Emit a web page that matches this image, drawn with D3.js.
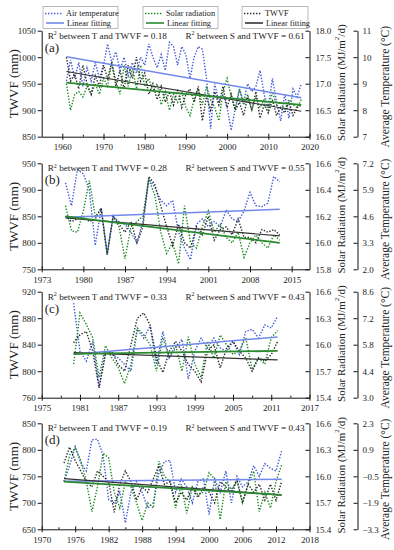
<!DOCTYPE html>
<html>
<head>
<meta charset="utf-8">
<script src="https://cdn.jsdelivr.net/npm/d3@7"></script>
<style>
body { margin: 0; background: #fff; }
svg { font-family: "Liberation Serif", "Times New Roman", serif; }
</style>
</head>
<body>
<svg width="394" height="550"></svg>
<script>
// ---- panel (a) ----
var yearsA = d3.range(1961, 2019);
var tempA = [9.10, 9.90, 9.20, 9.80, 8.90, 9.60, 9.10, 9.80, 9.20, 9.70,
  10.50, 9.80, 10.20, 9.50, 10.00, 9.30, 9.80, 9.40, 10.00, 9.70,
  10.50, 10.00, 9.60, 10.10, 9.50, 10.56, 10.40, 9.70, 10.40, 10.10,
  9.20, 10.00, 10.40, 10.30, 9.20, 7.30, 9.00, 8.30, 8.60, 8.10,
  7.24, 8.10, 8.80, 8.30, 9.00, 8.70, 8.90, 9.50, 8.60, 8.10,
  9.20, 8.30, 7.60, 8.60, 7.70, 8.80, 8.50, 9.00];
var solarA = [17.00, 16.50, 16.80, 16.85, 16.75, 16.95, 16.80, 17.00, 16.80, 17.10,
  16.95, 17.40, 17.05, 16.80, 17.35, 16.95, 17.30, 16.90, 17.35, 16.95,
  17.10, 16.85, 17.00, 16.60, 16.85, 16.50, 16.80, 16.65, 16.85, 16.55,
  16.40, 16.70, 16.90, 16.60, 16.95, 16.70, 16.55, 16.30, 16.85, 17.10,
  16.75, 16.50, 16.90, 16.60, 16.80, 16.50, 16.75, 16.55, 16.70, 16.50,
  16.85, 16.60, 16.65, 16.50, 16.70, 16.60, 16.55, 16.70];
var twvfA = [1000, 955, 968, 940, 985, 950, 930, 965, 945, 985,
  960, 990, 945, 975, 940, 985, 960, 1000, 955, 970,
  930, 950, 920, 945, 915, 935, 910, 940, 905, 930,
  940, 915, 945, 880, 925, 900, 935, 910, 945, 905,
  930, 900, 915, 890, 925, 900, 935, 885, 910, 895,
  920, 890, 905, 895, 915, 890, 905, 910];
var fitTempA = [10.02, 8.47], fitSolarA = [17.02, 16.60], fitTwvfA = [973, 898];
var xTicksA = [1960, 1970, 1980, 1990, 2000, 2010, 2020];
var wTicksA = [850, 900, 950, 1000, 1050];
var sTicksA = [16.0, 16.5, 17.0, 17.5, 18.0];
var tTicksA = [7, 8, 9, 10, 11];

// ---- panel (b) ----
var yearsB = d3.range(1977, 2014);
var tempB = [6.24, 5.12, 6.89, 6.68, 5.90, 3.17, 4.99, 2.73, 4.60, 4.34,
  4.21, 3.82, 3.30, 4.34, 6.42, 6.03, 5.38, 5.12, 5.38, 3.82,
  3.04, 2.47, 4.21, 4.47, 4.08, 4.34, 4.08, 4.91, 4.47, 4.34,
  4.86, 5.77, 5.12, 5.07, 5.25, 6.55, 6.29];
var solarB = [16.28, 16.09, 16.08, 16.24, 16.47, 16.20, 16.26, 15.91, 16.20, 16.12,
  15.88, 16.12, 16.16, 16.20, 16.48, 16.36, 16.08, 15.92, 16.00, 15.84,
  16.28, 16.00, 15.96, 16.12, 16.24, 16.08, 16.14, 16.04, 16.00, 16.08,
  15.89, 16.00, 16.06, 16.00, 15.96, 16.06, 16.02];
var twvfB = [850, 840, 845, 850, 840, 845, 865, 778, 850, 835,
  820, 840, 800, 830, 925, 910, 870, 830, 795, 835,
  800, 790, 830, 815, 850, 805, 825, 830, 815, 845,
  810, 810, 800, 825, 820, 825, 815];
var fitTempB = [4.55, 4.94], fitSolarB = [16.20, 16.00], fitTwvfB = [847, 813];
var xTicksB = [1973, 1980, 1987, 1994, 2001, 2008, 2015];
var wTicksB = [750, 800, 850, 900, 950];
var sTicksB = [15.8, 16.0, 16.2, 16.4, 16.6];
var tTicksB = [2.0, 3.3, 4.6, 5.9, 7.2];

// ---- panel (c) ----
var yearsC = d3.range(1980, 2013);
var tempC = [8.00, 5.45, 4.93, 5.98, 3.56, 5.45, 5.28, 5.10, 4.75, 4.40,
  6.61, 6.15, 6.78, 4.75, 6.50, 5.10, 5.63, 6.08, 3.98, 5.45,
  6.15, 5.63, 6.15, 5.63, 5.45, 5.98, 5.28, 6.50, 6.61, 6.15,
  6.85, 6.68, 7.31];
var solarC = [15.78, 16.36, 16.23, 16.08, 15.63, 15.99, 15.85, 15.74, 15.56, 15.78,
  16.19, 16.11, 16.00, 15.70, 16.08, 15.85, 16.00, 15.70, 16.09, 15.78,
  15.63, 16.04, 15.85, 16.11, 16.00, 15.89, 15.93, 16.08, 15.72, 15.85,
  15.78, 16.08, 16.16];
var twvfC = [843, 855, 860, 830, 775, 825, 830, 810, 800, 840,
  880, 888, 870, 820, 798, 830, 845, 830, 810, 800,
  784, 830, 840, 805, 835, 845, 830, 820, 800, 820,
  815, 825, 845];
var fitTempC = [5.30, 6.21], fitSolarC = [15.895, 15.93], fitTwvfC = [828, 817];
var xTicksC = [1975, 1981, 1987, 1993, 1999, 2005, 2011, 2017];
var wTicksC = [760, 800, 840, 880, 920];
var sTicksC = [15.4, 15.7, 16.0, 16.3, 16.6];
var tTicksC = [3.0, 4.4, 5.8, 7.2, 8.6];

// ---- panel (d) ----
var yearsD = d3.range(1974, 2014);
var tempD = [-0.78, 0.06, 1.07, 0.20, -0.22, 1.43, 1.46, 0.62, -1.73, -1.90,
  -1.34, -2.96, -1.34, -0.78, -1.34, -2.18, -1.90, -0.36, 0.28, 0.34,
  -1.34, -0.64, -1.06, -1.90, -0.78, -0.64, -2.52, -0.64, -1.34, -0.22,
  -1.90, -0.50, -1.06, -0.78, 0.06, -0.50, 0.17, -0.08, -0.22, 0.84];
var solarD = [15.94, 16.24, 16.32, 16.18, 15.94, 15.60, 15.88, 16.26, 16.21, 15.82,
  15.64, 15.94, 15.88, 15.70, 15.50, 15.70, 15.64, 16.17, 16.00, 15.94,
  15.64, 15.91, 15.58, 15.88, 15.79, 15.82, 16.04, 15.97, 15.51, 15.94,
  15.85, 15.94, 15.70, 15.91, 16.06, 15.60, 15.82, 15.64, 15.94, 16.13];
var twvfD = [775, 805, 780, 760, 740, 730, 760, 750, 740, 682,
  735, 760, 740, 705, 730, 720, 745, 770, 735, 740,
  700, 720, 705, 730, 710, 730, 720, 700, 740, 730,
  720, 745, 700, 735, 720, 735, 705, 735, 705, 740];
var fitTempD = [-0.76, -0.66], fitSolarD = [15.94, 15.79], fitTwvfD = [745.6, 714.4];
var xTicksD = [1970, 1976, 1982, 1988, 1994, 2000, 2006, 2012, 2018];
var wTicksD = [650, 700, 750, 800, 850];
var sTicksD = [15.4, 15.7, 16.0, 16.3, 16.6];
var tTicksD = [-3.3, -1.9, -0.5, 0.9, 2.3];

var xDomains = [[1955, 2020], [1973, 2018], [1975, 2017], [1970, 2018]];
var panelLabels = ["(a)", "(b)", "(c)", "(d)"];
var r2T = ["0.18", "0.28", "0.33", "0.19"];
var r2S = ["0.61", "0.55", "0.43", "0.43"];
var legendNames = ["Air temperature", "Solar radiation", "TWVF"];

// colours
var cTemp = "#4159d8", cTempFit = "#7389ea";
var cSolar = "#1f8a24", cSolarFit = "#2b8a30";
var cTwvf = "#2b2b2b", cTwvfFit = "#333333";

var panels = [
  { years: yearsA, t: tempA, s: solarA, w: twvfA, ft: fitTempA, fs: fitSolarA, fw: fitTwvfA,
    xt: xTicksA, wt: wTicksA, st: sTicksA, tt: tTicksA, tFmt: d3.format("d") },
  { years: yearsB, t: tempB, s: solarB, w: twvfB, ft: fitTempB, fs: fitSolarB, fw: fitTwvfB,
    xt: xTicksB, wt: wTicksB, st: sTicksB, tt: tTicksB, tFmt: d3.format(".1f") },
  { years: yearsC, t: tempC, s: solarC, w: twvfC, ft: fitTempC, fs: fitSolarC, fw: fitTwvfC,
    xt: xTicksC, wt: wTicksC, st: sTicksC, tt: tTicksC, tFmt: d3.format(".1f") },
  { years: yearsD, t: tempD, s: solarD, w: twvfD, ft: fitTempD, fs: fitSolarD, fw: fitTwvfD,
    xt: xTicksD, wt: wTicksD, st: sTicksD, tt: tTicksD, tFmt: d3.format(".1f") }
];

var svg = d3.select("svg");
var L = 41.7, R = 309.5, H = 106, AX3 = 357.5;
var tops = [30.7, 163.3, 291.7, 423.3];
var FONT = "'Liberation Serif', 'Times New Roman', serif";

function styleAxis(g) {
  g.attr("font-family", FONT).attr("font-size", 9);
  g.select(".domain").attr("stroke", "#111").attr("stroke-width", 1);
  g.selectAll(".tick line").attr("stroke", "#111");
  g.selectAll(".tick text").attr("fill", "#222");
}

function drawPanel(p, k) {
  var top = tops[k];
  var x = d3.scaleLinear().domain(xDomains[k]).range([L, R]);
  var yW = d3.scaleLinear().domain(d3.extent(p.wt)).range([top + H, top]);
  var yS = d3.scaleLinear().domain(d3.extent(p.st)).range([top + H, top]);
  var yT = d3.scaleLinear().domain(d3.extent(p.tt)).range([top + H, top]);
  var g = svg.append("g");

  function series(vals, scale, color) {
    g.append("path")
      .attr("d", d3.line().x(function(d, i) { return x(p.years[i]); }).y(function(d) { return scale(d); })(vals))
      .attr("fill", "none").attr("stroke", color).attr("stroke-width", 1.4)
      .attr("stroke-dasharray", "1.4 1.6");
  }
  function fit(ends, scale, color, wdt) {
    var xs = [p.years[0], p.years[p.years.length - 1]];
    g.append("path")
      .attr("d", d3.line().x(function(d, i) { return x(xs[i]); }).y(function(d) { return scale(d); })(ends))
      .attr("fill", "none").attr("stroke", color).attr("stroke-width", wdt);
  }

  series(p.t, yT, cTemp);
  series(p.s, yS, cSolar);
  series(p.w, yW, cTwvf);
  fit(p.ft, yT, cTempFit, 1.5);
  fit(p.fw, yW, cTwvfFit, 1.2);
  fit(p.fs, yS, cSolarFit, 1.8);

  // axes
  var ax = g.append("g").attr("transform", "translate(" + L + ",0)")
    .call(d3.axisLeft(yW).tickValues(p.wt).tickSize(4).tickSizeOuter(0).tickPadding(2).tickFormat(d3.format("d")));
  styleAxis(ax);

  var bx = g.append("g").attr("transform", "translate(0," + (top + H) + ")")
    .call(d3.axisBottom(x).tickValues(p.xt).tickSize(3).tickSizeOuter(0).tickPadding(4).tickFormat(d3.format("d")));
  styleAxis(bx);
  var minors = d3.pairs(p.xt).map(function(q) { return (q[0] + q[1]) / 2; });
  g.append("g").attr("transform", "translate(0," + (top + H) + ")")
    .call(d3.axisBottom(x).tickValues(p.xt).tickSize(-3).tickSizeOuter(0).tickFormat(""))
    .call(function(s) { s.select(".domain").remove(); s.selectAll("line").attr("stroke", "#111"); });
  g.append("g").attr("transform", "translate(0," + (top + H) + ")")
    .call(d3.axisBottom(x).tickValues(minors).tickSize(-2).tickSizeOuter(0).tickFormat(""))
    .call(function(s) { s.select(".domain").remove(); s.selectAll("line").attr("stroke", "#111"); });

  var sx = g.append("g").attr("transform", "translate(" + R + ",0)")
    .call(d3.axisRight(yS).tickValues(p.st).tickSize(-4).tickSizeOuter(0).tickPadding(6).tickFormat(d3.format(".1f")));
  styleAxis(sx);

  var tx = g.append("g").attr("transform", "translate(" + AX3 + ",0)")
    .call(d3.axisRight(yT).tickValues(p.tt).tickSize(-4).tickSizeOuter(0).tickPadding(5).tickFormat(p.tFmt));
  styleAxis(tx);

  // R² notes
  function r2(xp, anchor, letter, val) {
    var t = g.append("text").attr("x", xp).attr("y", top + 8).attr("text-anchor", anchor)
      .attr("font-size", 9.2).attr("fill", "#222");
    t.append("tspan").text("R");
    t.append("tspan").attr("font-size", 6).attr("dy", -3.5).text("2");
    t.append("tspan").attr("dy", 3.5).text(" between " + letter + " and TWVF = " + val);
  }
  r2(L + 6, "start", "T", r2T[k]);
  r2(R - 5, "end", "S", r2S[k]);

  g.append("text").attr("x", L + 3).attr("y", top + 21).attr("font-size", 13)
    .attr("fill", "#222").text(panelLabels[k]);

  // axis titles
  var cy = top + H / 2;
  g.append("text").attr("transform", "translate(13," + cy + ") rotate(-90)")
    .attr("text-anchor", "middle").attr("dominant-baseline", "central")
    .attr("font-size", 13).attr("fill", "#222").text("TWVF (mm)");
  var st = g.append("text").attr("transform", "translate(341," + (cy - 1) + ") rotate(-90)")
    .attr("text-anchor", "middle").attr("dominant-baseline", "central")
    .attr("font-size", 11).attr("fill", "#222");
  st.append("tspan").text("Solar Radiation (MJ/m");
  st.append("tspan").attr("font-size", 7).attr("dy", -4).text("2");
  st.append("tspan").attr("dy", 4).text("/d)");
  g.append("text").attr("transform", "translate(385," + (cy + 3) + ") rotate(-90)")
    .attr("text-anchor", "middle").attr("dominant-baseline", "central")
    .attr("font-size", 11.5).attr("fill", "#222").text("Average Temperature (\u00B0C)");
}

panels.forEach(drawPanel);

// legend
var legBoxes = [[43, 118], [143, 218], [242, 308]];
var legDot = [cTemp, cSolar, cTwvf];
var legFit = [cTempFit, cSolarFit, cTwvfFit];
legBoxes.forEach(function(b, i) {
  var lg = svg.append("g");
  lg.append("rect").attr("x", b[0]).attr("y", 6.5).attr("width", b[1] - b[0]).attr("height", 22)
    .attr("fill", "#fff").attr("stroke", "#aaa").attr("stroke-width", 0.8);
  lg.append("line").attr("x1", b[0] + 2).attr("x2", b[0] + 19).attr("y1", 13.5).attr("y2", 13.5)
    .attr("stroke", legDot[i]).attr("stroke-width", 1.4).attr("stroke-dasharray", "1.4 1.6");
  lg.append("line").attr("x1", b[0] + 3).attr("x2", b[0] + 21).attr("y1", 23).attr("y2", 23)
    .attr("stroke", legFit[i]).attr("stroke-width", 1.6);
  lg.append("text").attr("x", b[0] + 23).attr("y", 16.3).attr("font-size", 8.3).attr("fill", "#222")
    .text(legendNames[i]);
  lg.append("text").attr("x", b[0] + 24).attr("y", 26).attr("font-size", 8.3).attr("fill", "#222")
    .text("Linear fitting");
});
</script>
</body>
</html>
